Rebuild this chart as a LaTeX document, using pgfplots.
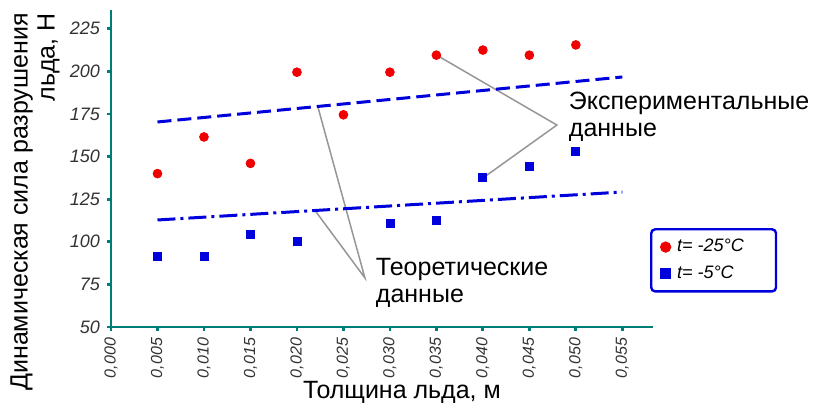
\documentclass[border=0pt]{standalone}
\usepackage{fontspec}
\setmainfont{Liberation Sans}
\usepackage{pgfplots}
\pgfplotsset{compat=1.18}
\definecolor{axteal}{RGB}{0,125,118}
\definecolor{lblue}{RGB}{0,0,220}
\definecolor{dred}{RGB}{240,0,0}
\definecolor{annog}{RGB}{150,150,150}
\definecolor{tickgray}{RGB}{50,50,50}
\begin{document}
\begin{tikzpicture}
\begin{axis}[
  scale only axis, width=271pt, height=158.5pt,
  xmin=0, xmax=0.0583, ymin=50, ymax=236,
  axis lines=left,
  axis line style={axteal, line width=1.4pt, -},
  scaled x ticks=false, scaled y ticks=false,
  xtick={0,0.005,0.010,0.015,0.020,0.025,0.030,0.035,0.040,0.045,0.050,0.055},
  xticklabels={{0,000},{0,005},{0,010},{0,015},{0,020},{0,025},{0,030},{0,035},{0,040},{0,045},{0,050},{0,055}},
  x tick label style={rotate=90, anchor=east, font=\itshape\fontsize{8}{9}\selectfont, text=tickgray},
  ytick={50,75,100,125,150,175,200,225},
  yticklabels={50,75,100,125,150,175,200,225},
  y tick label style={font=\itshape\fontsize{9}{10}\selectfont, text=tickgray},
  tick style={axteal, line width=1.4pt},
  tick align=outside, major tick length=2pt,
  clip=false,
  legend style={at={(0.9945,0.312)}, anchor=north west, draw=lblue, line width=1.2pt,
    rounded corners=2pt, font=\itshape\fontsize{9}{10}\selectfont,
    inner xsep=5pt, inner ysep=3pt, row sep=1.5pt},
  legend cell align=left,
]
\draw[annog, line width=0.75pt] (axis cs:0.035,209.6) -- (axis cs:0.04796,168.5) -- (axis cs:0.040,137.4);
\draw[annog, line width=0.75pt] (axis cs:0.02226,179.0) -- (axis cs:0.02731,78.8) -- (axis cs:0.02194,118.4);
\addplot[only marks, mark=*, color=dred, mark size=2.2pt, mark options={draw=none}] coordinates {
 (0.005,140) (0.010,161.5) (0.015,146) (0.020,199.5) (0.025,174.5) (0.030,199.5)
 (0.035,209.5) (0.040,212.5) (0.045,209.5) (0.050,215.5)};
\addlegendentry{\makebox[44pt][l]{\,t= -25°C}}
\addplot[only marks, mark=square*, color=lblue, mark size=2pt, mark options={draw=none, rounded corners=0.8pt}] coordinates {
 (0.005,91.5) (0.010,91.5) (0.015,104.5) (0.020,100.5) (0.030,110.5) (0.035,112.5)
 (0.040,137.5) (0.045,144.5) (0.050,153)};
\addlegendentry{\makebox[44pt][l]{\,t= -5°C}}
\addplot[lblue, line width=1.5pt, dash pattern=on 7pt off 3pt, forget plot] coordinates {(0.005,170.3) (0.055,196.7)};
\addplot[lblue, line width=1.5pt, dash pattern=on 9pt off 2.5pt on 1.5pt off 2.5pt, forget plot] coordinates {(0.005,112.8) (0.055,129.2)};
\node[anchor=west, align=left, font=\fontsize{12.5}{13.5}\selectfont] at (axis cs:0.0485,173.2) {Экспериментальные\\данные};
\node[anchor=west, align=left, font=\fontsize{12.5}{13.5}\selectfont] at (axis cs:0.02774,75.8) {Теоретические\\данные};
\end{axis}
\node[rotate=90, align=right, font=\fontsize{12.5}{13.5}\selectfont] at (-38pt,62.5pt) {Динамическая сила разрушения\\льда, Н};
\node[font=\fontsize{12.5}{13.5}\selectfont] at (145.5pt,-32.5pt) {Толщина льда, м};
\pgfresetboundingbox
\path[use as bounding box] (-55.5pt,-39.5pt) rectangle (351pt,163.5pt);
\end{tikzpicture}
\end{document}
